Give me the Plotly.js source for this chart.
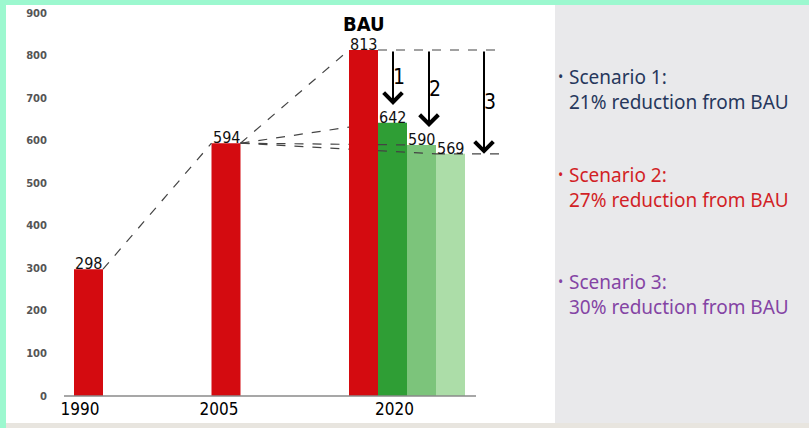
<!DOCTYPE html>
<html><head><meta charset="utf-8">
<script src="https://cdn.plot.ly/plotly-3.0.1.min.js"></script>
<style>html,body{margin:0;padding:0;background:#9cf8cf;overflow:hidden}#chart{width:809px;height:428px}</style>
</head><body><div id="chart"></div>
<script>
// ---- data ----
const years = [1990, 2005, 2020];
const emissions = [298, 594, 813];
const scenarioLabels = ['1', '2', '3'];
const scenarioValues = [642, 590, 569];
const scenarioColors = ['#2f9e35', '#7cc47b', '#acdda8'];
const yTickVals = [0, 100, 200, 300, 400, 500, 600, 700, 800, 900];
const yearLabels = ['1990', '2005', '2020'];
const bauLabel = 'BAU';
const panelTitles = ['Scenario 1:', 'Scenario 2:', 'Scenario 3:'];
const panelTexts = ['21% reduction from BAU', '27% reduction from BAU', '30% reduction from BAU'];
const panelColors = ['#26375c', '#d21f26', '#8444a4'];

// ---- geometry (pixels) ----
const W = 809, H = 428, L = 64, R = 540, T = 13, B = 396;
const pxPerYear = 137.5 / 15;
const x0 = years[0] - 24.5 / pxPerYear;
const x1 = x0 + (R - L) / pxPerYear;
const bw = 29 / pxPerYear;
const pxPerUnit = (B - T) / 900;
const px2x = px => x0 + (px - L) / pxPerYear;
const pxX = x => L + (x - x0) * pxPerYear;
const px2v = py => (B - py) / pxPerUnit;
const ppx = px => (px - L) / (R - L);
const ppy = py => (B - py) / (B - T);

const narrow = '"DejaVu Sans Condensed", "Liberation Sans Narrow", "Arial Narrow", sans-serif';
const scenX = scenarioValues.map((v, i) => years[2] + (i + 1) * bw);
const labelFont = {family: narrow, size: 16, color: '#111'};

const traces = [
  {type: 'bar', x: years, y: emissions, width: bw, marker: {color: '#d40b10', line: {width: 0}}, hoverinfo: 'none'},
  {type: 'bar', x: scenX, y: scenarioValues, width: bw, marker: {color: scenarioColors, line: {width: 0}}, hoverinfo: 'none'}
];

const shapes = [];
// backgrounds
shapes.push({type: 'rect', xref: 'paper', yref: 'paper', x0: ppx(6), x1: ppx(555), y0: ppy(5), y1: ppy(423), fillcolor: '#ffffff', line: {width: 0}, layer: 'below'});
shapes.push({type: 'rect', xref: 'paper', yref: 'paper', x0: ppx(555), x1: ppx(W + 2), y0: ppy(5), y1: ppy(423), fillcolor: '#e9e9eb', line: {width: 0}, layer: 'below'});
shapes.push({type: 'rect', xref: 'paper', yref: 'paper', x0: ppx(6), x1: ppx(W + 2), y0: ppy(423), y1: ppy(H + 2), fillcolor: '#e8e5df', line: {width: 0}, layer: 'below'});
// baseline
const lastRight = scenX[2] + bw / 2;
shapes.push({type: 'line', xref: 'paper', yref: 'paper', x0: 0, x1: ppx(pxX(lastRight) + 11), y0: 0, y1: 0, line: {color: '#8a8a8a', width: 1.5}});

const dash = {color: '#444', width: 1.2, dash: 'dash'};
function seg(xa, ya, xb, yb) { shapes.push({type: 'line', xref: 'x', yref: 'y', x0: xa, y0: ya, x1: xb, y1: yb, line: dash}); }
const r1990 = years[0] + bw / 2, l2005 = years[1] - bw / 2, r2005 = years[1] + bw / 2;
const lRed = years[2] - bw / 2, rRed = years[2] + bw / 2;
seg(r1990, emissions[0], l2005, emissions[1]);
seg(r2005, emissions[1], lRed, emissions[2]);
scenarioValues.forEach((v, i) => {
  const xt = scenX[i] - bw / 2;
  const interp = x => emissions[1] + (v - emissions[1]) * (x - r2005) / (xt - r2005);
  seg(r2005, emissions[1], lRed, interp(lRed));
  if (xt > rRed + 1e-6) seg(rRed, interp(rRed), xt, v);
});

// arrows
const arrowPx = [393, 429, 484];
const tipClear = [42, 42, 0];
const annotations = [];
seg(rRed, emissions[2], px2x(arrowPx[2] + 18), emissions[2]);
seg(scenX[2] - bw / 2, scenarioValues[2], px2x(arrowPx[2] + 23), scenarioValues[2]);

scenarioValues.forEach((v, i) => {
  const ax = px2x(arrowPx[i]);
  const tip = v + tipClear[i];
  annotations.push({x: ax, y: tip, ax: ax, ay: emissions[2], axref: 'x', ayref: 'y', xref: 'x', yref: 'y', text: '', showarrow: true, arrowhead: 4, arrowsize: 1.8, arrowwidth: 2, arrowcolor: '#000', standoff: 0, startstandoff: 0});
  annotations.push({x: px2x(arrowPx[i] + 6), y: (emissions[2] + tip) / 2, xref: 'x', yref: 'y', text: scenarioLabels[i], showarrow: false, font: {family: narrow, size: 21, color: '#000'}, xanchor: 'center', yanchor: 'middle'});
});

// value labels
years.forEach((yr, i) => annotations.push({x: yr, y: emissions[i], xref: 'x', yref: 'y', text: String(emissions[i]), showarrow: false, font: labelFont, yanchor: 'bottom', yshift: -6}));
scenX.forEach((x, i) => annotations.push({x: x, y: scenarioValues[i], xref: 'x', yref: 'y', text: String(scenarioValues[i]), showarrow: false, font: labelFont, yanchor: 'bottom', yshift: -6}));
annotations.push({x: years[2], y: px2v(24), xref: 'x', yref: 'y', text: '<b>' + bauLabel + '</b>', showarrow: false, font: {family: narrow, size: 20, color: '#000'}, yanchor: 'middle', borderpad: 0});

// right panel
const panelY = [89, 187, 294];
panelTitles.forEach((t, i) => {
  annotations.push({xref: 'paper', yref: 'paper', x: ppx(556), y: ppy(panelY[i] - 13), text: '•', showarrow: false, xanchor: 'left', yanchor: 'middle', font: {family: 'Noto Sans, sans-serif', size: 14, color: panelColors[i]}});
  annotations.push({xref: 'paper', yref: 'paper', x: ppx(567), y: ppy(panelY[i]), text: t + '<br>' + panelTexts[i], showarrow: false, xanchor: 'left', yanchor: 'middle', align: 'left', font: {family: 'Noto Sans, sans-serif', size: 19, color: panelColors[i]}});
});

const tickOffsetPx = [-8.5, -7, 31];
const layout = {
  width: W, height: H,
  margin: {l: L, r: W - R, t: T, b: H - B, pad: 0},
  paper_bgcolor: '#9cf8cf', plot_bgcolor: 'rgba(0,0,0,0)',
  showlegend: false, barmode: 'overlay',
  xaxis: {range: [x0, x1], showgrid: false, zeroline: false, showline: false, ticks: '',
    tickvals: years.map((y, i) => y + tickOffsetPx[i] / pxPerYear), ticktext: yearLabels,
    tickfont: {family: narrow, size: 17, color: '#000'}, ticklabelstandoff: 1},
  yaxis: {range: [0, 900], tickvals: yTickVals, showgrid: false, zeroline: false, showline: false, ticks: '',
    tickfont: {family: 'DejaVu Sans, sans-serif', size: 10, color: '#555', weight: 'bold'}, ticklabelstandoff: 16},
  shapes: shapes, annotations: annotations
};
Plotly.newPlot('chart', traces, layout, {staticPlot: true, displayModeBar: false});
</script></body></html>
